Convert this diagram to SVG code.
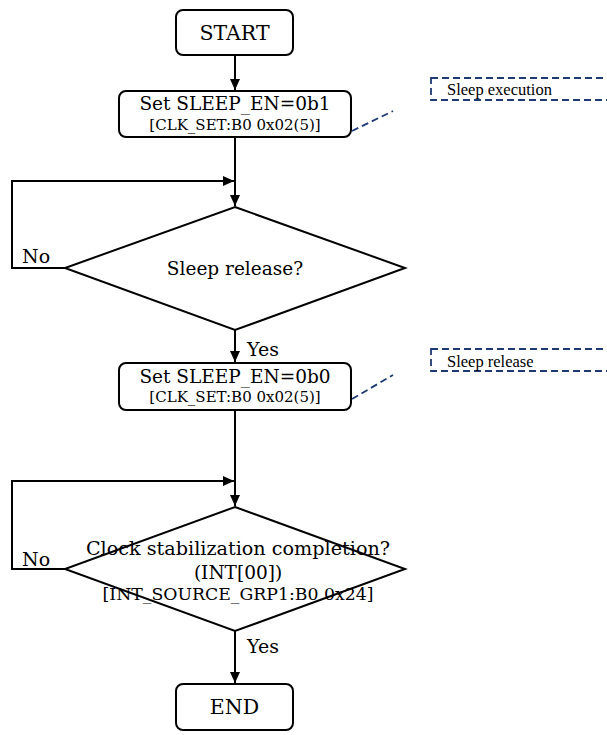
<svg xmlns="http://www.w3.org/2000/svg" width="607" height="735" viewBox="0 0 607 735">
<defs>
<marker id="ah" markerWidth="10" markerHeight="12" refX="11" refY="5" orient="auto" markerUnits="userSpaceOnUse">
<path d="M0,0 L11,5 L0,10 z" fill="#000"/>
</marker>
<style>
.box{fill:#fff;stroke:#000;stroke-width:2}
.dia{fill:#fff;stroke:#000;stroke-width:2}
.t{font-family:"DejaVu Serif","Liberation Serif",serif;font-size:18.5px;fill:#000;text-anchor:middle}
.s{font-family:"DejaVu Serif","Liberation Serif",serif;font-size:15px;fill:#000;text-anchor:middle}
.lbl{font-family:"DejaVu Serif","Liberation Serif",serif;font-size:19px;fill:#000}
.c{font-family:"Liberation Serif",serif;font-size:16.5px;fill:#000}
.conn{fill:none;stroke:#000;stroke-width:2}
.dash{fill:none;stroke:#1f3a73;stroke-width:1.8;stroke-dasharray:7,4}
</style>
</defs>
<rect width="607" height="735" fill="#fff"/>
<g id="connectors">
<line class="conn" x1="235" y1="55" x2="235" y2="90" marker-end="url(#ah)"/>
<line class="conn" x1="235" y1="137" x2="235" y2="206" marker-end="url(#ah)"/>
<polyline class="conn" points="65,268 12,268 12,181 234,181" marker-end="url(#ah)"/>
<line class="conn" x1="235" y1="330" x2="235" y2="362" marker-end="url(#ah)"/>
<line class="conn" x1="235" y1="410" x2="235" y2="506" marker-end="url(#ah)"/>
<polyline class="conn" points="65,569 12,569 12,481 234,481" marker-end="url(#ah)"/>
<line class="conn" x1="235" y1="631" x2="235" y2="683" marker-end="url(#ah)"/>
<line class="dash" x1="352" y1="131" x2="393" y2="111"/>
<line class="dash" x1="352" y1="399" x2="393" y2="375"/>
</g>
<g id="start">
<rect class="box" x="176" y="10" width="117" height="45" rx="7"/>
<text class="t" x="234.5" y="40" style="font-size:20.5px">START</text>
</g>
<g id="set1">
<rect class="box" x="119" y="91" width="232" height="46" rx="7"/>
<text class="t" x="235" y="110">Set SLEEP_EN=0b1</text>
<text class="s" x="235" y="130">[CLK_SET:B0 0x02(5)]</text>
</g>
<g id="dec1">
<polygon class="dia" points="235,207 405,268 235,330 65,268"/>
<text class="t" x="235" y="275">Sleep release?</text>
</g>
<text class="lbl" x="22" y="263">No</text>
<text class="lbl" x="247" y="356">Yes</text>
<g id="set0">
<rect class="box" x="119" y="363" width="232" height="47" rx="7"/>
<text class="t" x="235" y="383">Set SLEEP_EN=0b0</text>
<text class="s" x="235" y="402">[CLK_SET:B0 0x02(5)]</text>
</g>
<g id="dec2">
<polygon class="dia" points="235,507 405,569 235,631 65,569"/>
<text class="t" x="238" y="555" style="font-size:19.2px">Clock stabilization completion?</text>
<text class="t" x="238" y="579">(INT[00])</text>
<text class="s" x="238" y="600" style="font-size:17.3px">[INT_SOURCE_GRP1:B0 0x24]</text>
</g>
<text class="lbl" x="22" y="566">No</text>
<text class="lbl" x="247" y="653">Yes</text>
<g id="end">
<rect class="box" x="176" y="684" width="117" height="46" rx="7"/>
<text class="t" x="234.5" y="714" style="font-size:20.5px">END</text>
</g>
<g id="note1">
<rect class="dash" x="431" y="78" width="190" height="22"/>
<text class="c" x="447" y="95">Sleep execution</text>
</g>
<g id="note2">
<rect class="dash" x="431" y="349" width="190" height="22"/>
<text class="c" x="447" y="367">Sleep release</text>
</g>
</svg>
